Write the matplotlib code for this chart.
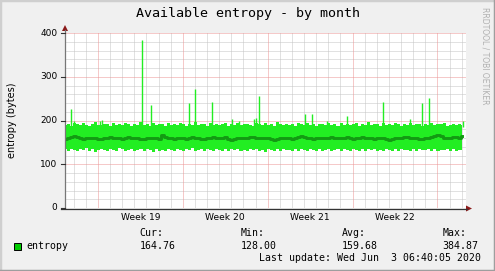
import numpy as np
import matplotlib
matplotlib.use("Agg")
import matplotlib.pyplot as plt
from matplotlib.lines import Line2D
from matplotlib.patches import Polygon, Rectangle

W, H = 495, 271

# time axis in days relative to Mon May 4 2020 00:00 (start of week 19)
T_START, T_END = -2.72, 30.36
SAMPLE_T0, SAMPLE_DT = -2.70, 0.25

band_hi = [
    190, 193, 188, 195, 191, 189, 194, 190, 187, 192, 196, 190,
    189, 193, 191, 188, 195, 190, 192, 189, 194, 191, 188, 193,
    190, 196, 189, 192, 188, 194, 190, 191, 193, 187, 195, 190,
    192, 189, 194, 191, 188, 193, 190, 197, 189, 192, 191, 188,
    194, 190, 193, 189, 191, 195, 188, 192, 190, 194, 189, 191,
    193, 190, 188, 195, 191, 189, 194, 190, 192, 188, 196, 191,
    189, 193, 190, 192, 188, 194, 191, 189, 195, 190, 192, 188,
    193, 191, 189, 194, 190, 192, 188, 195, 190, 193, 189, 191,
    194, 188, 192, 190, 196, 189, 193, 191, 188, 194, 190, 192,
    189, 195, 191, 188, 193, 190, 194, 189, 192, 191, 188, 193,
    190, 194, 189, 192, 191, 195, 188, 190, 193, 189, 192, 190,
]
band_lo = [
    134, 131, 136, 133, 130, 135, 132, 137, 131, 134, 129, 133,
    136, 132, 130, 135, 133, 131, 137, 134, 130, 132, 136, 131,
    133, 135, 130, 134, 132, 128, 136, 131, 133, 130, 135, 132,
    131, 136, 133, 130, 134, 132, 137, 131, 133, 135, 130, 134,
    132, 130, 136, 133, 131, 134, 130, 135, 132, 136, 131, 133,
    130, 134, 132, 136, 131, 133, 129, 135, 132, 130, 134, 131,
    136, 132, 133, 130, 135, 131, 134, 132, 130, 136, 133, 131,
    134, 130, 132, 135, 131, 133, 136, 130, 134, 132, 131, 135,
    133, 131, 136, 130, 134, 132, 135, 131, 133, 130, 136, 132,
    131, 134, 130, 135, 132, 133, 131, 136, 130, 134, 132, 133,
    135, 131, 134, 130, 133, 132, 136, 131, 134, 130, 133, 132,
]
avg_line = [
    158, 160, 163, 165, 162, 159, 158, 160, 161, 159, 160, 158,
    157, 159, 160, 162, 160, 161, 159, 158, 160, 163, 161, 159,
    160, 158, 157, 159, 161, 160, 159, 158, 166, 162, 160, 159,
    158, 160, 161, 159, 158, 160, 162, 160, 159, 157, 158, 160,
    161, 163, 161, 159, 160, 162, 158, 156, 158, 160, 161, 159,
    160, 162, 163, 161, 159, 160, 161, 159, 157, 156, 158, 160,
    161, 159, 160, 158, 160, 162, 164, 163, 160, 159, 158, 160,
    161, 160, 159, 160, 162, 161, 159, 160, 161, 163, 160, 158,
    159, 160, 162, 160, 161, 159, 158, 160, 161, 159, 158, 156,
    158, 160, 159, 161, 163, 162, 160, 159, 160, 158, 157, 159,
    160, 162, 164, 166, 164, 161, 159, 160, 162, 163, 161, 165,
]

spike_days = [-2.22, -1.95, 0.15, 0.35, 3.66, 4.40, 7.54, 8.03, 9.43, 11.05,
              11.62, 12.85, 13.06, 13.31, 17.10, 17.68, 18.93, 20.52,
              23.49, 25.76, 26.71, 27.33, 30.08]
spike_vals = [226, 200, 200, 201, 385, 235, 241, 272, 242, 203,
              200, 203, 205, 256, 215, 215, 200, 210,
              243, 203, 241, 252, 200]

y_ticks = [0, 100, 200, 300, 400]
week_starts = [0, 7, 14, 21, 28]
week_labels = ["Week 19", "Week 20", "Week 21", "Week 22"]

legend_cols = ["Cur:", "Min:", "Avg:", "Max:"]
legend_vals = ["164.76", "128.00", "159.68", "384.87"]
last_update = "Last update: Wed Jun  3 06:40:05 2020"


def fx(px):
    return px / W


def fy(py):
    return (H - py) / H


fig = plt.figure(figsize=(W / 100, H / 100), dpi=100, facecolor="#F0F0F0")

# outer 3d-ish frame
fig.add_artist(Line2D([0, 0, 1], [0, 1, 1], transform=fig.transFigure,
                      color="#CFCFCF", lw=2.5))
fig.add_artist(Line2D([0, 1, 1], [0, 0, 1], transform=fig.transFigure,
                      color="#9E9E9E", lw=2.5))

ax = fig.add_axes([fx(65), fy(208), fx(466) - fx(65), fy(33) - fy(208)])
ax.set_facecolor("white")
ax.set_xlim(T_START, T_END)
ax.set_ylim(0, 400)
for s in ax.spines.values():
    s.set_visible(False)
ax.set_xticks([])
ax.set_yticks([])

dot = (0, (1, 1))
# minor grid
for d in range(-2, 31):
    if d in week_starts:
        continue
    ax.axvline(d, color="#C4C4C4", lw=0.72, ls=dot, zorder=1)
for v in range(20, 400, 20):
    if v % 100:
        ax.axhline(v, color="#C4C4C4", lw=0.72, ls=dot, zorder=1)
# major grid
for d in week_starts:
    ax.axvline(d, color="#EC9494", lw=0.72, ls=dot, zorder=1)
for v in y_ticks[1:]:
    ax.axhline(v, color="#EC9494", lw=0.72, ls=dot, zorder=1)

t = SAMPLE_T0 + SAMPLE_DT * np.arange(len(band_hi))
ax.fill_between(t, band_lo, band_hi, step="mid", color="#22EE22", lw=0, zorder=2)
ax.vlines(spike_days, 185, spike_vals, color="#22EE22", lw=1.0, zorder=2)
ax.step(t, avg_line, where="mid", color="#139A13", lw=2.1, zorder=3)

# axes lines and arrows
fig.add_artist(Line2D([fx(65), fx(65)], [fy(208), fy(30)],
                      transform=fig.transFigure, color="#777777", lw=0.9))
fig.add_artist(Line2D([fx(61), fx(467)], [fy(208.5), fy(208.5)],
                      transform=fig.transFigure, color="#333333", lw=0.9))
fig.add_artist(Polygon([[fx(62), fy(31)], [fx(68), fy(31)], [fx(65), fy(25)]],
                       closed=True, transform=fig.transFigure, color="#8B1A1A", lw=0))
fig.add_artist(Polygon([[fx(466), fy(205.5)], [fx(466), fy(211.5)], [fx(472), fy(208.5)]],
                       closed=True, transform=fig.transFigure, color="#8B1A1A", lw=0))

# y tick labels and tick marks
for v in y_ticks:
    py = 208 - v * 175 / 400
    fig.text(fx(57.5), fy(py), str(v), ha="right", va="center",
             fontsize=6.5, family="DejaVu Sans", color="#000000")
    fig.add_artist(Line2D([fx(61), fx(65)], [fy(py), fy(py)],
                          transform=fig.transFigure, color="#333333", lw=0.8))

# week labels centred between week boundaries
for i, lab in enumerate(week_labels):
    mid = (week_starts[i] + week_starts[i + 1]) / 2
    px = 65 + (mid - T_START) / (T_END - T_START) * 401
    fig.text(fx(px), fy(217.5), lab, ha="center", va="center",
             fontsize=6.6, family="DejaVu Sans", color="#000000")

fig.text(fx(247.5), fy(13), "Available entropy - by month", ha="center",
         va="center", fontsize=9.6, family="DejaVu Sans Mono", color="#000000")
fig.text(fx(12), fy(120), "entropy (bytes)", ha="center", va="center",
         rotation=90, fontsize=7, family="DejaVu Sans", color="#000000")
fig.text(fx(485.5), fy(56), "RRDTOOL / TOBI OETIKER", ha="center", va="center",
         rotation=270, fontsize=5.5, family="DejaVu Sans", color="#B0B0B0")

# legend
fig.add_artist(Rectangle((fx(13.5), fy(249.5)), fx(7), fy(242.5) - fy(249.5),
                         transform=fig.transFigure, facecolor="#00CC00",
                         edgecolor="#000000", lw=0.7))
fig.text(fx(26.5), fy(245.7), "entropy", ha="left", va="center",
         fontsize=7.1, family="DejaVu Sans Mono", color="#000000")
col_x = [139.3, 240.7, 341.7, 442.7]
for x, head, val in zip(col_x, legend_cols, legend_vals):
    fig.text(fx(x), fy(233.3), head, ha="left", va="center",
             fontsize=7.1, family="DejaVu Sans Mono", color="#000000")
    fig.text(fx(x), fy(245.7), val, ha="left", va="center",
             fontsize=7.1, family="DejaVu Sans Mono", color="#000000")
fig.text(fx(259.3), fy(257.7), last_update, ha="left", va="center",
         fontsize=7.1, family="DejaVu Sans Mono", color="#000000")

fig.savefig("out.png", dpi=100, facecolor=fig.get_facecolor())
